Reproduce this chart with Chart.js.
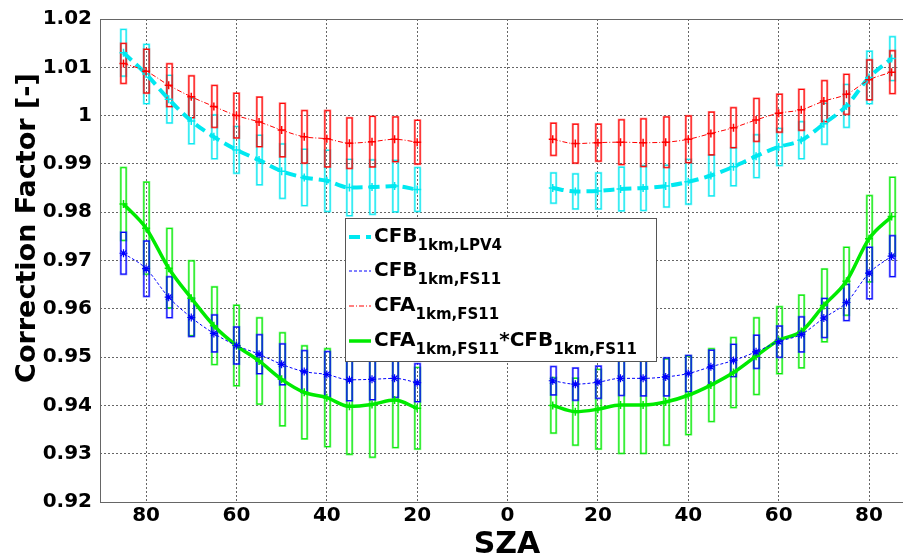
<!DOCTYPE html>
<html>
<head>
<meta charset="utf-8">
<script src="https://cdn.jsdelivr.net/npm/chart.js@4"></script>
<style>
  body { margin: 0; background: #fff; }
  canvas { display: block; }
</style>
</head>
<body>
<canvas id="sza" width="903" height="554"></canvas>
<script>
// solar zenith angles: morning branch is drawn on the left (negative axis), afternoon on the right
const SZA_LEFT = [85, 80, 75, 70, 65, 60, 55, 50, 45, 40, 35, 30, 25, 20];
const SZA_RIGHT = [10, 15, 20, 25, 30, 35, 40, 45, 50, 55, 60, 65, 70, 75, 80, 85];

const X_TICKS = [-80, -60, -40, -20, 0, 20, 40, 60, 80];
const Y_TICKS = [0.92, 0.93, 0.94, 0.95, 0.96, 0.97, 0.98, 0.99, 1.0, 1.01, 1.02];

const CFB_LPV4_LEFT = [1.0130, 1.0086, 1.0034, 0.9989, 0.9956, 0.9929, 0.9908, 0.9885, 0.9872, 0.9865, 0.9851, 0.9852, 0.9854, 0.9847];
const CFB_LPV4_LEFT_ERR = [0.0049, 0.0062, 0.0050, 0.0048, 0.0046, 0.0049, 0.0052, 0.0057, 0.0059, 0.0064, 0.0059, 0.0057, 0.0054, 0.0046];
const CFB_LPV4_RIGHT = [0.9850, 0.9843, 0.9844, 0.9848, 0.9850, 0.9854, 0.9863, 0.9876, 0.9894, 0.9916, 0.9935, 0.9949, 0.9983, 1.0020, 1.0079, 1.0118];
const CFB_LPV4_RIGHT_ERR = [0.0032, 0.0037, 0.0038, 0.0046, 0.0047, 0.0044, 0.0047, 0.0043, 0.0040, 0.0045, 0.0039, 0.0039, 0.0043, 0.0045, 0.0055, 0.0046];

const CFB_FS11_LEFT = [0.9715, 0.9683, 0.9624, 0.9582, 0.9549, 0.9524, 0.9506, 0.9485, 0.9470, 0.9464, 0.9453, 0.9454, 0.9456, 0.9447];
const CFB_FS11_LEFT_ERR = [0.0044, 0.0058, 0.0043, 0.0040, 0.0039, 0.0039, 0.0041, 0.0043, 0.0044, 0.0048, 0.0044, 0.0043, 0.0040, 0.0040];
const CFB_FS11_RIGHT = [0.9451, 0.9444, 0.9448, 0.9456, 0.9456, 0.9459, 0.9466, 0.9480, 0.9493, 0.9511, 0.9532, 0.9547, 0.9581, 0.9613, 0.9674, 0.9709];
const CFB_FS11_RIGHT_ERR = [0.0030, 0.0034, 0.0034, 0.0036, 0.0037, 0.0040, 0.0038, 0.0035, 0.0034, 0.0035, 0.0033, 0.0037, 0.0041, 0.0038, 0.0054, 0.0043];

const CFA_FS11_LEFT = [1.0108, 1.0092, 1.0063, 1.0039, 1.0019, 1.0000, 0.9987, 0.9970, 0.9956, 0.9952, 0.9943, 0.9946, 0.9951, 0.9945];
const CFA_FS11_LEFT_ERR = [0.0042, 0.0046, 0.0045, 0.0044, 0.0044, 0.0047, 0.0052, 0.0056, 0.0055, 0.0059, 0.0053, 0.0053, 0.0047, 0.0046];
const CFA_FS11_RIGHT = [0.9951, 0.9942, 0.9944, 0.9945, 0.9944, 0.9945, 0.9951, 0.9963, 0.9975, 0.9991, 1.0005, 1.0012, 1.0030, 1.0044, 1.0074, 1.0090];
const CFA_FS11_RIGHT_ERR = [0.0034, 0.0041, 0.0039, 0.0047, 0.0050, 0.0053, 0.0049, 0.0045, 0.0042, 0.0045, 0.0040, 0.0043, 0.0043, 0.0042, 0.0042, 0.0045];

const PRODUCT_LEFT = [0.9817, 0.9767, 0.9684, 0.9622, 0.9565, 0.9524, 0.9492, 0.9454, 0.9427, 0.9416, 0.9398, 0.9402, 0.9411, 0.9394];
const PRODUCT_LEFT_ERR = [0.0076, 0.0096, 0.0083, 0.0078, 0.0081, 0.0084, 0.0090, 0.0097, 0.0097, 0.0102, 0.0100, 0.0110, 0.0099, 0.0085];
const PRODUCT_RIGHT = [0.9400, 0.9387, 0.9392, 0.9401, 0.9401, 0.9407, 0.9421, 0.9442, 0.9468, 0.9502, 0.9535, 0.9553, 0.9607, 0.9657, 0.9745, 0.9791];
const PRODUCT_RIGHT_ERR = [0.0058, 0.0070, 0.0083, 0.0101, 0.0101, 0.0090, 0.0082, 0.0076, 0.0073, 0.0080, 0.0070, 0.0076, 0.0076, 0.0071, 0.0090, 0.0082];

const CYAN = 'rgb(0, 232, 240)';
const BLUE = 'rgb(0, 0, 255)';
const RED = 'rgb(255, 0, 0)';
const GREEN = 'rgb(0, 235, 0)';
const FONT = '"DejaVu Sans", Verdana, sans-serif';

// left branch at negative x, a null point breaks the line between the branches
function buildPoints(left, right) {
    const pts = SZA_LEFT.map((s, i) => ({ x: -s, y: left[i] }));
    pts.push({ x: -5, y: null });
    SZA_RIGHT.forEach((s, i) => pts.push({ x: s, y: right[i] }));
    return pts;
}
function buildErrs(left, right) {
    return left.concat([null], right);
}

const seriesCfbLpv4 = {
    label: 'CFB 1km,LPV4',
    data: buildPoints(CFB_LPV4_LEFT, CFB_LPV4_RIGHT),
    errs: buildErrs(CFB_LPV4_LEFT_ERR, CFB_LPV4_RIGHT_ERR),
    borderColor: CYAN, backgroundColor: CYAN,
    borderWidth: 4, borderDash: [11, 6],
    pointStyle: 'cross', pointRadius: 4, pointBorderWidth: 1.5,
    order: 4
};
const seriesCfbFs11 = {
    label: 'CFB 1km,FS11',
    data: buildPoints(CFB_FS11_LEFT, CFB_FS11_RIGHT),
    errs: buildErrs(CFB_FS11_LEFT_ERR, CFB_FS11_RIGHT_ERR),
    borderColor: BLUE, backgroundColor: BLUE,
    borderWidth: 1, borderDash: [3, 2],
    pointStyle: 'star', pointRadius: 4, pointBorderWidth: 1.2,
    order: 1
};
const seriesCfaFs11 = {
    label: 'CFA 1km,FS11',
    data: buildPoints(CFA_FS11_LEFT, CFA_FS11_RIGHT),
    errs: buildErrs(CFA_FS11_LEFT_ERR, CFA_FS11_RIGHT_ERR),
    borderColor: RED, backgroundColor: RED,
    borderWidth: 1, borderDash: [5, 2, 1, 2],
    pointStyle: 'cross', pointRadius: 4, pointBorderWidth: 1.5,
    order: 2
};
const seriesProduct = {
    label: 'CFA*CFB',
    data: buildPoints(PRODUCT_LEFT, PRODUCT_RIGHT),
    errs: buildErrs(PRODUCT_LEFT_ERR, PRODUCT_RIGHT_ERR),
    borderColor: GREEN, backgroundColor: GREEN,
    borderWidth: 3.5,
    pointStyle: 'cross', pointRadius: 4, pointBorderWidth: 1.5,
    order: 3
};

// std boxes, drawn under the lines; red over cyan, blue over green
const errorBoxes = {
    id: 'errorBoxes',
    beforeDatasetsDraw(chart) {
        const { ctx, scales: { x, y } } = chart;
        const drawOrder = [0, 3, 2, 1];
        ctx.save();
        drawOrder.forEach(di => {
            const ds = chart.data.datasets[di];
            ctx.strokeStyle = ds.borderColor;
            ds.data.forEach((p, i) => {
                if (p.y === null) return;
                const e = ds.errs[i];
                const px = Math.round(x.getPixelForValue(p.x)) + 0.5;
                const top = y.getPixelForValue(p.y + e);
                const bot = y.getPixelForValue(p.y - e);
                ctx.globalAlpha = 0.55;
                ctx.lineWidth = 1.5;
                ctx.strokeRect(px - 3, top, 6, bot - top);
                ctx.globalAlpha = 1;
                ctx.lineWidth = 1;
                ctx.strokeRect(px - 2.5, top + 0.5, 5, bot - top - 1);
            });
        });
        ctx.restore();
    }
};

function drawSubText(ctx, x, y, parts) {
    parts.forEach(([txt, sub]) => {
        ctx.font = sub ? 'bold 15px ' + FONT : 'bold 20px ' + FONT;
        ctx.fillText(txt, x, sub ? y + 8 : y);
        x += ctx.measureText(txt).width;
    });
}

const decorations = {
    id: 'decorations',
    afterDraw(chart) {
        const { ctx, chartArea: a } = chart;
        ctx.save();
        // axes box (right side runs off the picture)
        ctx.strokeStyle = '#666';
        ctx.lineWidth = 1;
        ctx.beginPath();
        ctx.moveTo(903, a.top + 0.5);
        ctx.lineTo(a.left + 0.5, a.top + 0.5);
        ctx.lineTo(a.left + 0.5, a.bottom + 0.5);
        ctx.lineTo(903, a.bottom + 0.5);
        ctx.stroke();

        // axis titles
        ctx.fillStyle = '#000';
        ctx.textAlign = 'center';
        ctx.textBaseline = 'alphabetic';
        ctx.font = 'bold 30px ' + FONT;
        ctx.fillText('SZA', 507, 553);
        ctx.save();
        ctx.translate(35, 228);
        ctx.rotate(-Math.PI / 2);
        ctx.font = 'bold 27px ' + FONT;
        ctx.fillText('Correction Factor [-]', 0, 0);
        ctx.restore();

        // legend
        const L = 345, T = 218, W = 311, H = 143;
        ctx.fillStyle = '#fff';
        ctx.fillRect(L, T, W, H);
        ctx.strokeStyle = '#555';
        ctx.strokeRect(L + 0.5, T + 0.5, W, H);
        const rows = [
            { ds: seriesCfbLpv4, y: 242, parts: [['CFB', false], ['1km,LPV4', true]] },
            { ds: seriesCfbFs11, y: 276, parts: [['CFB', false], ['1km,FS11', true]] },
            { ds: seriesCfaFs11, y: 311, parts: [['CFA', false], ['1km,FS11', true]] },
            { ds: seriesProduct, y: 346, parts: [['CFA', false], ['1km,FS11', true], ['*CFB', false], ['1km,FS11', true]] }
        ];
        rows.forEach(r => {
            ctx.strokeStyle = r.ds.borderColor;
            ctx.lineWidth = r.ds.borderWidth;
            ctx.setLineDash(r.ds.borderDash || []);
            ctx.beginPath();
            ctx.moveTo(349, r.y - 5);
            ctx.lineTo(371, r.y - 5);
            ctx.stroke();
            ctx.setLineDash([]);
            ctx.fillStyle = '#000';
            ctx.textAlign = 'left';
            drawSubText(ctx, 374, r.y, r.parts);
        });
        ctx.restore();
    }
};

const config = {
    type: 'line',
    data: { datasets: [seriesCfbLpv4, seriesCfbFs11, seriesCfaFs11, seriesProduct] },
    options: {
        responsive: false,
        animation: false,
        spanGaps: false,
        cubicInterpolationMode: 'monotone',
        layout: { padding: { top: 19, left: 0, right: 0, bottom: 0 } },
        plugins: {
            legend: { display: false },
            tooltip: { enabled: false }
        },
        scales: {
            x: {
                type: 'linear',
                min: -90.2,
                max: 86.3,
                afterBuildTicks: s => { s.ticks = X_TICKS.map(v => ({ value: v })); },
                afterFit: s => { s.height = 52; s.paddingLeft = 0; s.paddingRight = 0; },
                ticks: {
                    color: '#000',
                    font: { family: FONT, size: 20, weight: 'bold' },
                    padding: 2,
                    maxRotation: 0,
                    callback: v => String(Math.abs(v))
                },
                grid: { color: '#666', lineWidth: 1, drawTicks: false },
                border: { display: false, dash: [2, 2] }
            },
            y: {
                min: 0.92,
                max: 1.02,
                afterBuildTicks: s => { s.ticks = Y_TICKS.map(v => ({ value: v })); },
                afterFit: s => { s.width = 100; s.paddingTop = 0; s.paddingBottom = 0; },
                ticks: {
                    color: '#000',
                    font: { family: FONT, size: 20, weight: 'bold' },
                    padding: 8,
                    callback: v => String(Number(v.toFixed(2)))
                },
                grid: { color: '#666', lineWidth: 1, drawTicks: false },
                border: { display: false, dash: [2, 2] }
            }
        }
    },
    plugins: [errorBoxes, decorations]
};

const szaChart = new Chart(document.getElementById('sza'), config);
</script>
</body>
</html>
